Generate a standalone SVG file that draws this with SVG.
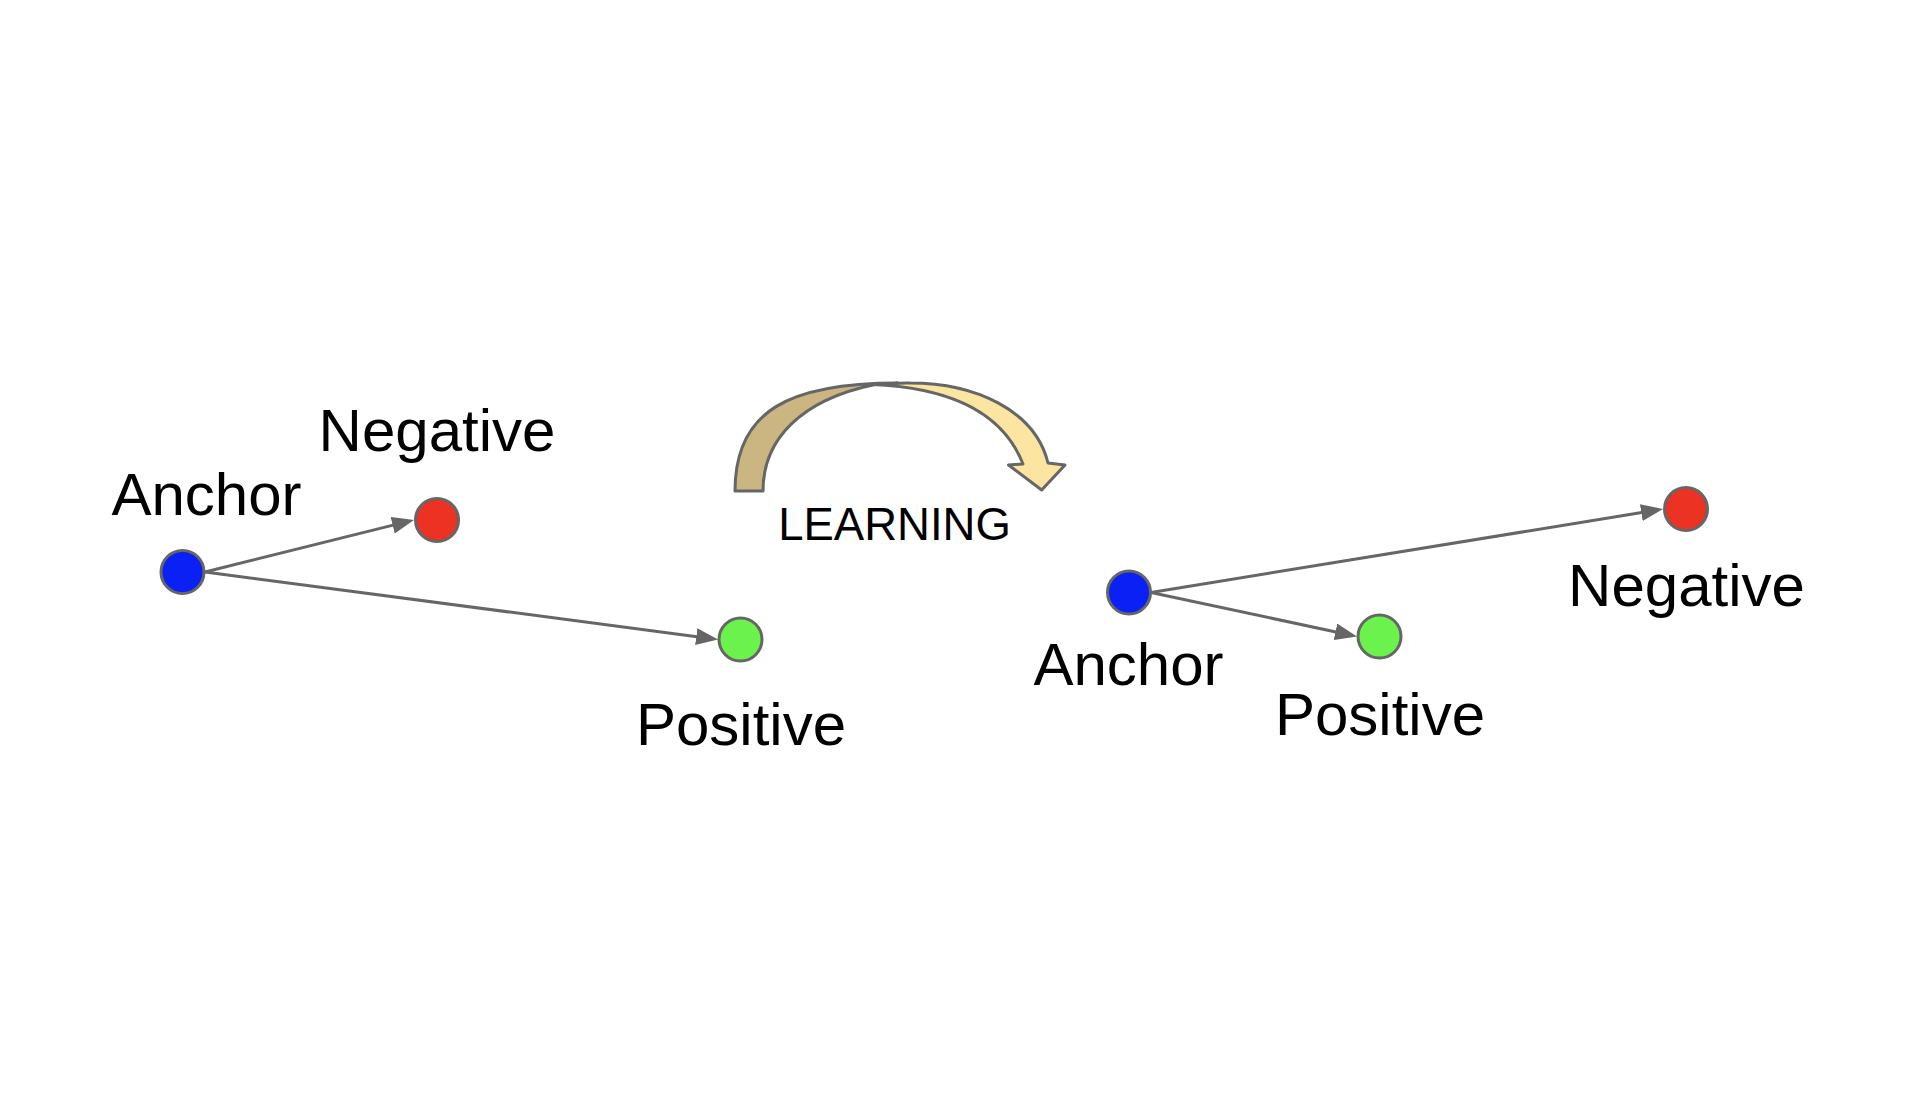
<svg xmlns="http://www.w3.org/2000/svg" width="1906" height="1102" viewBox="0 0 1906 1102">
  <style>
    .lbl { font-family: "Liberation Sans", Arial, sans-serif; font-size: 60px; fill: #000; text-anchor: middle; }
    .learn { font-family: "Liberation Sans", Arial, sans-serif; font-size: 45.5px; fill: #000; text-anchor: middle; }
    .node { stroke: #666666; stroke-width: 3; }
    .anchor { fill: #0a20f5; }
    .neg { fill: #eb3223; }
    .pos { fill: #6cf24c; }
    .edge { stroke: #666666; stroke-width: 3; fill: none; marker-end: url(#arrow); }
    .band { stroke: #666666; stroke-width: 3; stroke-linejoin: round; }
  </style>
  <defs>
    <marker id="arrow" markerUnits="userSpaceOnUse" markerWidth="24" markerHeight="18" refX="16" refY="8.5" orient="auto">
      <path d="M0,0 L22,8.5 L0,17 Z" fill="#666666"/>
    </marker>
  </defs>
  <rect width="1906" height="1102" fill="#ffffff"/>

  <g id="connectors">
    <line class="edge" x1="205" y1="572" x2="408.2" y2="521.4"/>
    <line class="edge" x1="205" y1="572" x2="712.1" y2="638.7"/>
    <line class="edge" x1="1151" y1="592.5" x2="1657.1" y2="510"/>
    <line class="edge" x1="1151" y1="592.5" x2="1351.1" y2="635.2"/>
  </g>

  <g id="left-anchor">
    <circle class="node anchor" cx="182.5" cy="572" r="21.5"/>
    <text class="lbl" x="206.5" y="515">Anchor</text>
  </g>
  <g id="left-negative">
    <circle class="node neg" cx="437" cy="520" r="21.5"/>
    <text class="lbl" x="437" y="451">Negative</text>
  </g>
  <g id="left-positive">
    <circle class="node pos" cx="740.5" cy="639.5" r="21.5"/>
    <text class="lbl" x="741" y="745">Positive</text>
  </g>

  <g id="learning">
    <path class="band" fill="#fbe5a0" d="M872,384.5 C900,382.6 910,383 910,383 C975,383 1035,410 1048,463 L1065,465 L1041.7,490 L1008.5,465 L1023,464 C1005,418 960,388 872,384.5 Z"/>
    <path class="band" fill="#cbb682" d="M735,491 C735,410 790,383 898,383 L875,384.5 C800,400 763,440 763,491 Z"/>
    <text class="learn" x="894.5" y="540">LEARNING</text>
  </g>

  <g id="right-anchor">
    <circle class="node anchor" cx="1129" cy="592.5" r="21.5"/>
    <text class="lbl" x="1128.5" y="685">Anchor</text>
  </g>
  <g id="right-positive">
    <circle class="node pos" cx="1379.5" cy="636.5" r="21.5"/>
    <text class="lbl" x="1380" y="735">Positive</text>
  </g>
  <g id="right-negative">
    <circle class="node neg" cx="1686" cy="509" r="21.5"/>
    <text class="lbl" x="1686.5" y="606">Negative</text>
  </g>
</svg>
